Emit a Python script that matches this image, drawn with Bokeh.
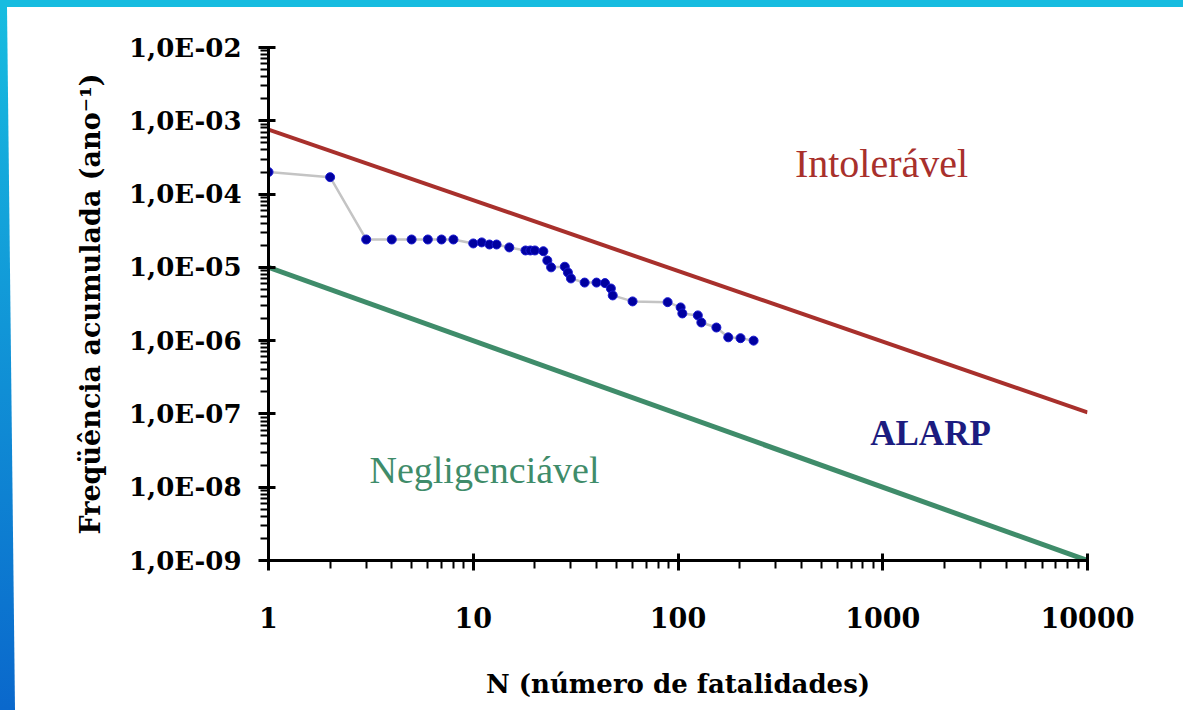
from bokeh.plotting import figure
from bokeh.models import (FixedTicker, CustomJSTickFormatter, Label, Div, ColumnDataSource)
from bokeh.layouts import column, row
from bokeh.embed import file_html
from bokeh.resources import INLINE

# ---------------- data ----------------
# Cumulative frequency curve (F-N curve)
n_fatalities = [1, 2, 3, 4, 5, 6, 7, 8, 10, 11, 12, 13, 15, 18, 19, 20, 22, 23, 24,
                28, 29, 30, 35, 40, 44, 47, 48, 60, 89, 103, 105, 125, 130, 154,
                176, 202, 234]
freq = [2.0e-4, 1.7e-4, 2.4e-5, 2.4e-5, 2.4e-5, 2.4e-5, 2.4e-5, 2.4e-5,
        2.12e-5, 2.19e-5, 2.05e-5, 2.05e-5, 1.87e-5, 1.70e-5, 1.70e-5, 1.70e-5,
        1.66e-5, 1.24e-5, 1.0e-5, 1.02e-5, 8.5e-6, 7.06e-6, 6.2e-6, 6.2e-6,
        6.1e-6, 5.15e-6, 4.14e-6, 3.43e-6, 3.35e-6, 2.84e-6, 2.35e-6, 2.21e-6,
        1.77e-6, 1.51e-6, 1.11e-6, 1.08e-6, 1.0e-6]

# Criterion lines
limit_n = [1, 10000]
intoleravel_f = [7.6e-4, 1.05e-7]
negligenciavel_f = [1.0e-5, 1.0e-9]

# Axis ticks
x_ticks = [1, 10, 100, 1000, 10000]
x_tick_labels = ["1", "10", "100", "1000", "10000"]
y_ticks = [1e-9, 1e-8, 1e-7, 1e-6, 1e-5, 1e-4, 1e-3, 1e-2]
y_tick_labels = ["1,0E-09", "1,0E-08", "1,0E-07", "1,0E-06",
                 "1,0E-05", "1,0E-04", "1,0E-03", "1,0E-02"]

# ---------------- figure ----------------
AXFONT = "DejaVu Serif"
LBLFONT = "Liberation Serif"

p = figure(width=1168, height=703, x_axis_type="log", y_axis_type="log",
           x_range=(1, 10000), y_range=(1e-9, 1e-2),
           output_backend="svg", toolbar_location=None,
           min_border_left=253, min_border_right=96,
           min_border_top=40, min_border_bottom=150, margin=0)
p.outline_line_color = None
p.xgrid.visible = False
p.ygrid.visible = False
p.background_fill_color = "white"
p.border_fill_color = "white"

# lines
p.line(limit_n, intoleravel_f, line_color="#a8302c", line_width=4)
p.line(limit_n, negligenciavel_f, line_color="#3f8c6a", line_width=5)

src = ColumnDataSource(dict(n=n_fatalities, f=freq))
p.line("n", "f", source=src, line_color="#c4c4c4", line_width=2.5)
p.scatter("n", "f", source=src, size=9, fill_color="#0000a0",
          line_color="#1a1ad0", line_width=1)

# tickers
minor_x = [m * 10 ** e for e in range(0, 4) for m in range(2, 10)]
minor_y = [m * 10.0 ** e for e in range(-9, -2) for m in range(2, 10)]
p.xaxis.ticker = FixedTicker(ticks=x_ticks, minor_ticks=minor_x)
p.yaxis.ticker = FixedTicker(ticks=y_ticks, minor_ticks=minor_y)

fmt_code = """
let best = 0; let d = Infinity;
for (let i = 0; i < tvals.length; i++) {
  const dd = Math.abs(Math.log10(tick) - Math.log10(tvals[i]));
  if (dd < d) { d = dd; best = i; }
}
return tlabs[best];
"""
p.xaxis.formatter = CustomJSTickFormatter(args=dict(tvals=x_ticks, tlabs=x_tick_labels), code=fmt_code)
p.yaxis.formatter = CustomJSTickFormatter(args=dict(tvals=y_ticks, tlabs=y_tick_labels), code=fmt_code)

for ax in (p.xaxis[0], p.yaxis[0]):
    ax.axis_line_color = "black"
    ax.axis_line_width = 3
    ax.major_tick_line_color = "black"
    ax.major_tick_line_width = 3
    ax.major_tick_in = 7
    ax.major_tick_out = 10
    ax.minor_tick_line_color = "black"
    ax.minor_tick_line_width = 2
    ax.minor_tick_in = 0
    ax.minor_tick_out = 8
    ax.major_label_text_font = AXFONT
    ax.major_label_text_font_style = "bold"
    ax.major_label_text_color = "black"
    ax.axis_label_text_font = AXFONT
    ax.axis_label_text_font_style = "bold"
    ax.axis_label_text_color = "black"

p.yaxis.major_label_text_font_size = "26px"
p.xaxis.major_label_text_font_size = "27px"
p.yaxis.axis_label_text_font_size = "27px"
p.xaxis.axis_label_text_font_size = "26px"
p.yaxis.major_label_standoff = 17
p.xaxis.major_label_standoff = 36
p.xaxis.axis_label = "N (número de fatalidades)"
p.yaxis.axis_label = "Freqüência acumulada (ano⁻¹)"
p.xaxis.axis_label_standoff = 38
p.yaxis.axis_label_standoff = 20

# region labels
p.add_layout(Label(x=986, y=2.6e-4, text="Intolerável", text_align="center",
                   text_baseline="middle", text_font=LBLFONT, text_font_size="40px",
                   text_color="#a8302c"))
p.add_layout(Label(x=1711, y=5.4e-8, text="ALARP", text_align="center",
                   text_baseline="middle", text_font=LBLFONT, text_font_size="35px",
                   text_font_style="bold", text_color="#1c1c80"))
p.add_layout(Label(x=11.35, y=1.7e-8, text="Negligenciável", text_align="center",
                   text_baseline="middle", text_font=LBLFONT, text_font_size="38px",
                   text_color="#3f8c6a"))

# slide-style blue border
top_band = Div(width=1183, height=7, margin=0, styles={"background-color": "#17bce0"})
left_band = Div(width=15, height=703, margin=0,
                styles={"background": "linear-gradient(to bottom, #17bce0, #0a68cc)",
                        "clip-path": "polygon(0 0, 7px 0, 15px 100%, 0 100%)"})
layout = column(top_band, row(left_band, p, spacing=0, margin=0), spacing=0, margin=0)

open("out.html", "w").write(file_html(layout, INLINE))
